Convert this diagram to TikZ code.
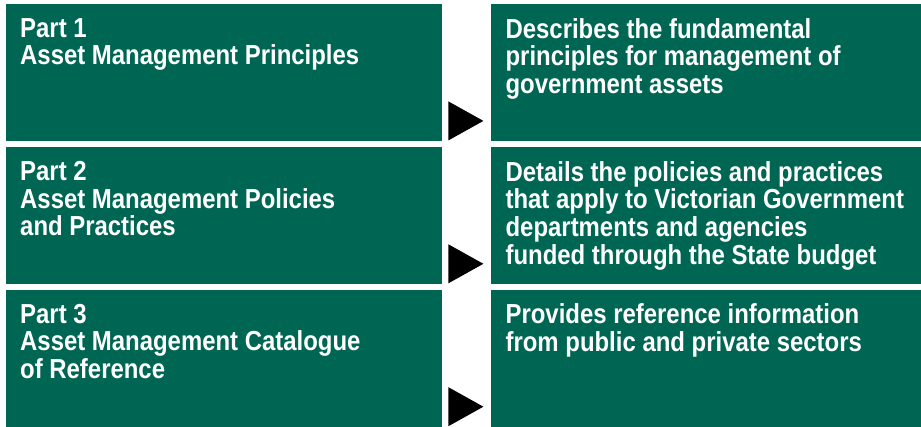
\documentclass[tikz,border=0pt]{standalone}
\usepackage{fontspec}
\setmainfont{Liberation Sans}[FakeStretch=0.87]
\usepackage{xcolor}
\usetikzlibrary{positioning,calc}

\definecolor{boxgreen}{RGB}{0,102,84}

\tikzset{
    partbox/.style={fill=boxgreen, minimum height=137pt, inner sep=0pt},
    boxtext/.style={text=white, font=\fontsize{27.5}{27.7}\selectfont\bfseries, align=left, inner sep=0pt, anchor=north west},
    pointer/.style={fill=black}
}

\begin{document}
\begin{tikzpicture}[x=1pt, y=-1pt, node distance=5.5pt]
    \useasboundingbox (0,0) rectangle (921,426);

    % Part boxes on the left
    \node[partbox, minimum width=436pt, anchor=north west] (part1) at (6,4) {};
    \node[partbox, minimum width=436pt, below=of part1] (part2) {};
    \node[partbox, minimum width=436pt, below=of part2] (part3) {};

    % Description boxes on the right
    \node[partbox, minimum width=431pt, right=48pt of part1] (desc1) {};
    \node[partbox, minimum width=431pt, right=48pt of part2] (desc2) {};
    \node[partbox, minimum width=431pt, right=48pt of part3] (desc3) {};

    % Box texts
    \node[boxtext] (title1) at ($(part1.north west)+(14,14)$) {Part 1\\Asset Management Principles};
    \node[boxtext] (title2) at ($(part2.north west)+(14,14)$) {Part 2\\Asset Management Policies\\and Practices};
    \node[boxtext] (title3) at ($(part3.north west)+(14,14)$) {Part 3\\Asset Management Catalogue\\of Reference};
    \node[boxtext] (text1) at ($(desc1.north west)+(15,14)$) {Describes the fundamental\\principles for management of\\government assets};
    \node[boxtext] (text2) at ($(desc2.north west)+(15,14)$) {Details the policies and practices\\that apply to Victorian Government\\departments and agencies\\funded through the State budget};
    \node[boxtext] (text3) at ($(desc3.north west)+(15,14)$) {Provides reference information\\from public and private sectors};

    % Pointers between the boxes
    \fill[pointer] ($(part1.south east)+(6,-40)$) -- ($(part1.south east)+(41,-20.5)$) -- ($(part1.south east)+(6,-1)$) -- cycle;
    \fill[pointer] ($(part2.south east)+(6,-40)$) -- ($(part2.south east)+(41,-20.5)$) -- ($(part2.south east)+(6,-1)$) -- cycle;
    \fill[pointer] ($(part3.south east)+(6,-40)$) -- ($(part3.south east)+(41,-20.5)$) -- ($(part3.south east)+(6,-1)$) -- cycle;
\end{tikzpicture}
\end{document}
